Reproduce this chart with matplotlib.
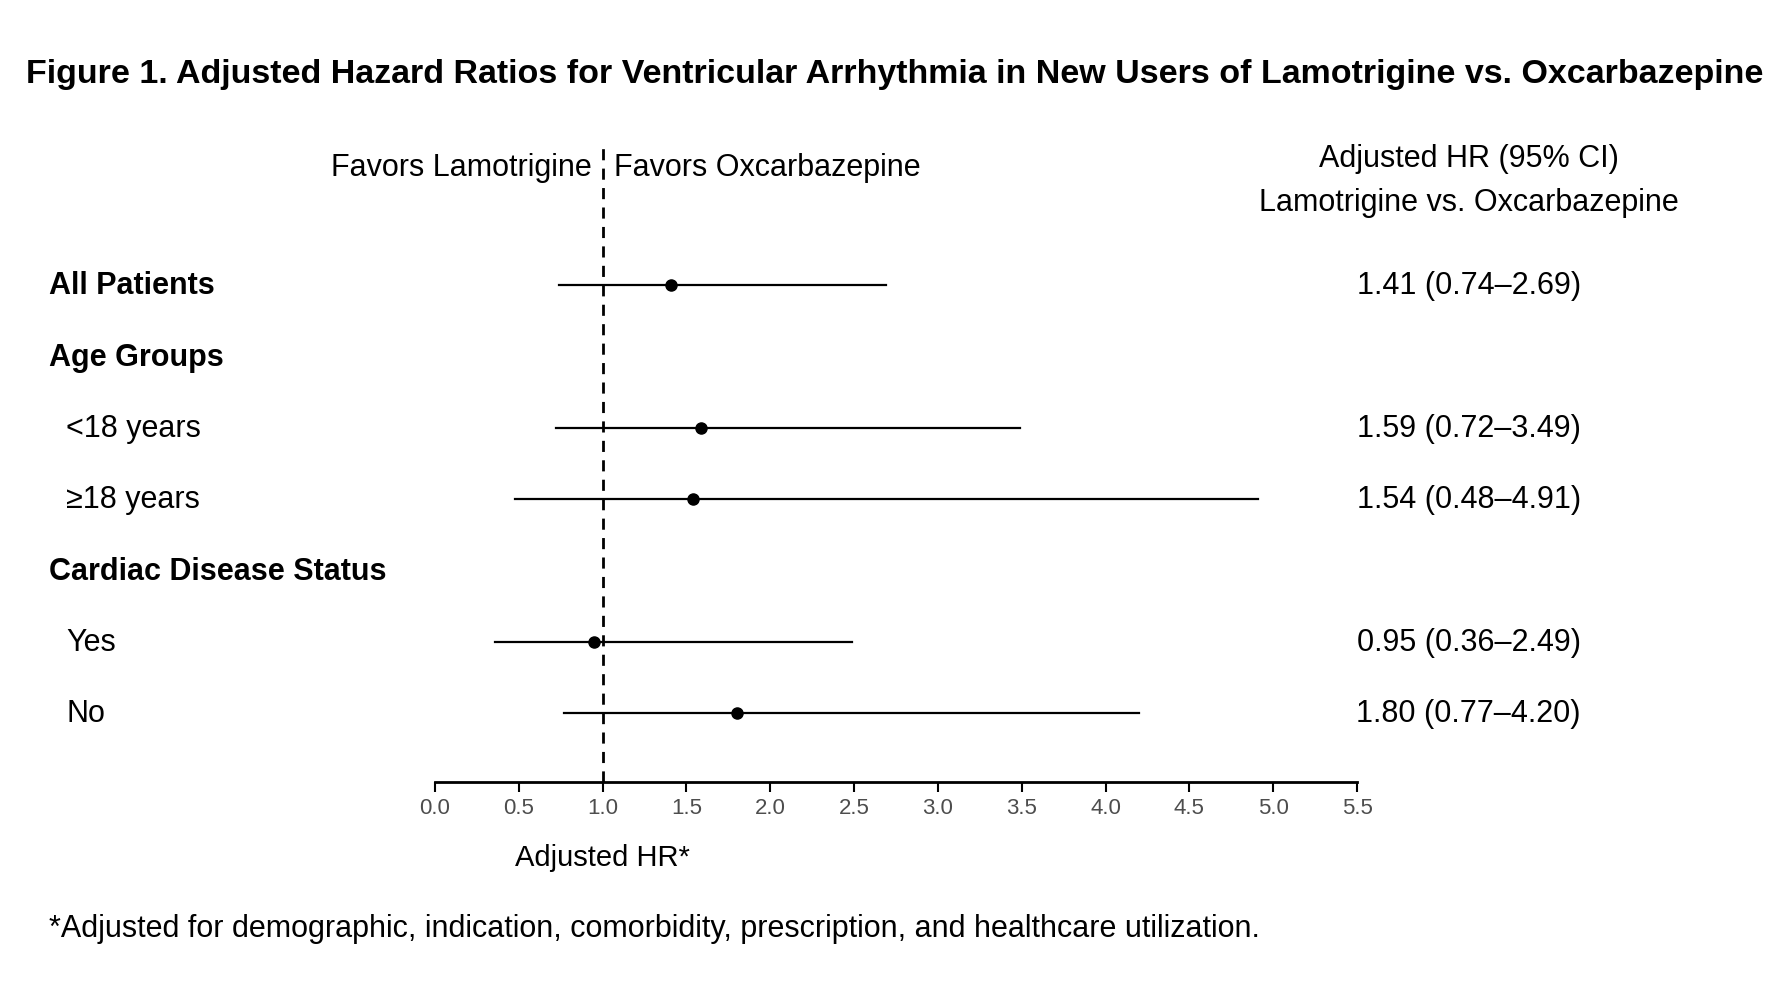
import matplotlib
matplotlib.use("Agg")
import matplotlib.pyplot as plt

# ── Data ──────────────────────────────────────────────────────────────────────
row_labels = ["All Patients", "Age Groups", "<18 years", "\u226518 years",
              "Cardiac Disease Status", "Yes", "No"]
row_bold   = [True, True, False, False, True, False, False]
hr         = [1.41, None, 1.59, 1.54, None, 0.95, 1.80]
ci_low     = [0.74, None, 0.72, 0.48, None, 0.36, 0.77]
ci_high    = [2.69, None, 3.49, 4.91, None, 2.49, 4.20]
xticks     = [0.0, 0.5, 1.0, 1.5, 2.0, 2.5, 3.0, 3.5, 4.0, 4.5, 5.0, 5.5]

plt.rcParams["font.family"] = ["Liberation Sans", "DejaVu Sans"]

W, H = 1560, 880  # layout reference units
fig = plt.figure(figsize=(17.76, 10.04), dpi=100)
ax = fig.add_axes([382 / W, 1 - 686 / H, 810 / W, 558 / H])

for i, (h, lo, hi) in enumerate(zip(hr, ci_low, ci_high)):
    if h is None:
        continue
    ax.plot([lo, hi], [i, i], color="black", lw=1.6)
    ax.plot(h, i, "o", color="black", ms=8)

ax.axvline(1.0, color="black", ls=(0, (4, 3)), lw=2)
ax.set_xlim(0, 5.5)
ax.set_ylim(6.96, -1.968)
ax.set_xticks(xticks)
ax.set_xticklabels([f"{t:.1f}" for t in xticks], color="#4d4d4d", fontsize=16)
ax.tick_params(axis="x", length=7, width=1.5, pad=4)
ax.set_yticks([])
for s in ["top", "right", "left"]:
    ax.spines[s].set_visible(False)
ax.spines["bottom"].set_linewidth(2)

def fx(px):
    return px / W

def fy(py):
    return 1 - py / H

fig.text(fx(786), fy(65), "Figure 1. Adjusted Hazard Ratios for Ventricular Arrhythmia in New Users of Lamotrigine vs. Oxcarbazepine",
         ha="center", va="center", fontsize=24.5, fontweight="bold")
fig.text(fx(520), fy(147), "Favors Lamotrigine", ha="right", va="center", fontsize=22)
fig.text(fx(539), fy(147), "Favors Oxcarbazepine", ha="left", va="center", fontsize=22)
fig.text(fx(1290), fy(139), "Adjusted HR (95% CI)", ha="center", va="center", fontsize=22)
fig.text(fx(1290), fy(178), "Lamotrigine vs. Oxcarbazepine", ha="center", va="center", fontsize=22)

for i, (lab, b) in enumerate(zip(row_labels, row_bold)):
    y = 251 + 62.5 * i
    x = 43 if b else 58
    fig.text(fx(x), fy(y), lab, ha="left", va="center", fontsize=22,
             fontweight="bold" if b else "normal")
    if hr[i] is not None:
        fig.text(fx(1290), fy(y), f"{hr[i]:.2f} ({ci_low[i]:.2f}\u2013{ci_high[i]:.2f})",
                 ha="center", va="center", fontsize=22)

fig.text(fx(529), fy(752), "Adjusted HR*", ha="center", va="center", fontsize=21)
fig.text(fx(43), fy(814), "*Adjusted for demographic, indication, comorbidity, prescription, and healthcare utilization.",
         ha="left", va="center", fontsize=22)

fig.savefig("out.png", dpi=100)
